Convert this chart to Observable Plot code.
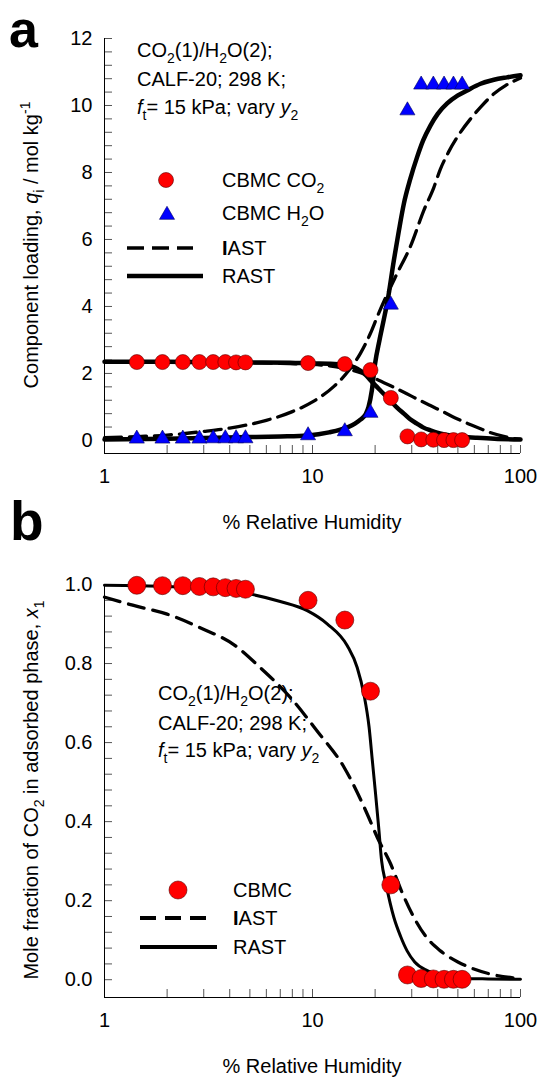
<!DOCTYPE html>
<html><head><meta charset="utf-8">
<script src="https://cdn.jsdelivr.net/npm/d3@7"></script>
<script src="https://cdn.jsdelivr.net/npm/@observablehq/plot@0.6"></script>
<style>
body{margin:0;background:#fff;}
#chart{width:539px;}
#chart svg{display:block;overflow:visible}
</style></head><body><div id="chart"></div>
<script>
// ---- CBMC data (% relative humidity) ----
const rh = [1.43,1.90,2.38,2.86,3.33,3.81,4.29,4.76,9.52,14.3,19.0,23.8,28.6,33.3,38.1,42.9,47.6,52.4];
const cbmcCO2 = [2.34,2.34,2.34,2.34,2.34,2.34,2.33,2.33,2.31,2.28,2.10,1.27,0.12,0.03,0.02,0.01,0.01,0.01];
const cbmcH2O = [0.05,0.05,0.05,0.05,0.06,0.06,0.06,0.06,0.15,0.27,0.82,4.05,9.85,10.62,10.62,10.62,10.62,10.62];
const cbmcX1 = [0.998,0.997,0.997,0.995,0.994,0.992,0.990,0.988,0.960,0.910,0.730,0.240,0.012,0.003,0.002,0.001,0.001,0.001];

// ---- IAST / RAST curves ----
const iastCO2X = [1,2,3,5,7,10,14,17,20.8,24,27.5,32,36.9,42,49.5,56,64.3,72,83,92,100];
const iastCO2Y = [2.35,2.34,2.33,2.32,2.30,2.27,2.16,2.02,1.80,1.62,1.44,1.23,1.04,0.87,0.65,0.50,0.35,0.23,0.12,0.06,0.03];
const rastCO2X = [1,2,3,5,7.8,10,12,14.1,16.4,18,19,20,21.2,22.5,23.7,25.5,27.5,29.5,31.8,34,36.9,41,46,53,61.8,75,100];
const rastCO2Y = [2.35,2.35,2.34,2.33,2.32,2.30,2.29,2.26,2.14,1.96,1.80,1.65,1.49,1.33,1.19,0.98,0.80,0.63,0.50,0.39,0.30,0.21,0.15,0.11,0.08,0.05,0.03];
const iastH2OX = [1,1.5,2,3,4,5,6,8,10,12.6,15,17,19,20.5,23,25.5,29.6,34.3,38.3,41.2,45,49.6,57.5,64.3,74.5,85,100];
const iastH2OY = [0.08,0.12,0.16,0.27,0.37,0.48,0.60,0.86,1.15,1.60,2.10,2.60,3.20,3.70,4.40,4.98,5.80,6.87,7.55,8.10,8.60,9.05,9.60,9.95,10.35,10.60,10.82];
const rastH2OX = [1,2,3,5,7,9.5,12,14.7,16,17,18,18.6,19.3,20,21,22,23,24.6,26,27.5,29.5,31.8,34,36.9,40,44.4,50,55.4,64.3,74.5,86,100];
const rastH2OY = [0.03,0.05,0.07,0.10,0.12,0.15,0.24,0.39,0.50,0.62,0.78,1.00,1.50,2.30,3.00,3.60,4.20,5.37,6.25,7.07,7.80,8.45,8.95,9.40,9.75,10.06,10.30,10.45,10.65,10.77,10.84,10.90];
const rastX1X = [1,2,3,4.87,7,9.43,11.8,14.7,16.4,17.7,18.7,19.4,20.1,20.8,21.5,22.5,24.6,26.5,28.5,31,35.6,42,51.5,70,100];
const rastX1Y = [0.998,0.995,0.990,0.977,0.957,0.934,0.900,0.845,0.790,0.720,0.640,0.554,0.470,0.386,0.300,0.245,0.158,0.110,0.073,0.045,0.023,0.010,0.004,0.002,0.001];
const iastX1X = [1,1.38,2,2.9,4.18,5.6,7.8,10.5,14.2,18.3,20.5,23.7,27,30.7,35,41.2,50,59.7,75,100];
const iastX1Y = [0.968,0.947,0.925,0.890,0.848,0.790,0.715,0.630,0.537,0.420,0.360,0.294,0.220,0.158,0.110,0.073,0.045,0.027,0.012,0.003];

// ---- axis ticks ----
const xMajor = [1,10,100];
const xMinor = [1,2,3,4,5,6,7,8,9,10,20,30,40,50,60,70,80,90,100];
const yMajorA = [0,2,4,6,8,10,12];
const yMinorA = d3.range(0, 12.001, 0.4);
const yMajorB = [0,0.2,0.4,0.6,0.8,1.0];
const yMinorB = d3.range(0, 1.0001, 0.04);

const font = "'Liberation Sans', Arial, Helvetica, sans-serif";
const zip = (xs, ys) => xs.map((x, i) => ({x, y: ys[i]}));

function axes(yMajor, yMinor, yFmt, yMin) {
  return [
    Plot.axisX({ticks: xMajor, tickSize: 0, tickPadding: 15, tickFormat: d => String(d), label: null, fontSize: 20}),
    Plot.axisX({ticks: xMinor, tickSize: -8, tickFormat: () => "", label: null, stroke: "#555"}),
    Plot.axisY({ticks: yMajor, tickSize: 0, tickPadding: 12, tickFormat: yFmt, label: null, fontSize: 20}),
    Plot.axisY({ticks: yMinor, tickSize: -8, tickFormat: () => "", label: null, stroke: "#555"}),
    Plot.ruleX([1], {stroke: "#000", strokeWidth: 1}),
    Plot.ruleY([yMin], {stroke: "#000", strokeWidth: 1})
  ];
}

function rich(sel, x, y, parts, opts = {}) {
  const size = opts.size || 20;
  const t = sel.append("text").attr("x", x).attr("y", y)
    .attr("font-size", size).attr("font-family", font).attr("fill", "#000")
    .attr("text-anchor", opts.anchor || "start");
  if (opts.weight) t.attr("font-weight", opts.weight);
  if (opts.rotate) t.attr("transform", `rotate(-90 ${x} ${y})`);
  let shift = 0;
  for (const p of parts) {
    const [s, st] = typeof p === "string" ? [p, {}] : p;
    const ts = t.append("tspan").text(s);
    const target = st.sub ? size * 0.3 : st.sup ? -size * 0.42 : 0;
    if (target !== shift) { ts.attr("dy", target - shift); shift = target; }
    if (st.sub || st.sup) ts.attr("font-size", size * 0.7);
    if (st.italic) ts.attr("font-style", "italic");
    if (st.bold) ts.attr("font-weight", "bold");
  }
  return t;
}

const redDot = {fill: "#ff0000", stroke: "#5a0000", strokeWidth: 0.6};
const blueTri = {fill: "#0000ff", stroke: "#000060", strokeWidth: 0.6};

// ---------- Panel a ----------
const yMinA = -0.39;
const svgA = Plot.plot({
  width: 539, height: 560, marginTop: 38, marginBottom: 107, marginLeft: 104, marginRight: 19,
  style: {fontFamily: font, fontSize: "20px", color: "#000", background: "#fff", overflow: "visible"},
  x: {type: "log", domain: [1, 100]},
  y: {domain: [yMinA, 12]},
  marks: [
    ...axes(yMajorA, yMinorA, d => String(d), yMinA),
    Plot.line(zip(iastCO2X, iastCO2Y), {x: "x", y: "y", curve: "monotone-x", stroke: "#000", strokeWidth: 3.3, strokeDasharray: "17,8"}),
    Plot.line(zip(iastH2OX, iastH2OY), {x: "x", y: "y", curve: "monotone-x", stroke: "#000", strokeWidth: 3.3, strokeDasharray: "17,8"}),
    Plot.line(zip(rastCO2X, rastCO2Y), {x: "x", y: "y", curve: "monotone-x", stroke: "#000", strokeWidth: 4.5}),
    Plot.line(zip(rastH2OX, rastH2OY), {x: "x", y: "y", curve: "monotone-x", stroke: "#000", strokeWidth: 4.5}),
    Plot.dot(zip(rh, cbmcCO2), {x: "x", y: "y", r: 7.5, ...redDot}),
    Plot.dot(zip(rh, cbmcH2O), {x: "x", y: "y", r: 5.6, symbol: "triangle", ...blueTri})
  ]
});
// ---------- Panel b ----------
const yMinB = -0.045;
const svgB = Plot.plot({
  width: 539, height: 518, marginTop: 24, marginBottom: 81, marginLeft: 104, marginRight: 19,
  style: {fontFamily: font, fontSize: "20px", color: "#000", background: "#fff", overflow: "visible"},
  x: {type: "log", domain: [1, 100]},
  y: {domain: [yMinB, 1.0]},
  marks: [
    ...axes(yMajorB, yMinorB, d3.format(".1f"), yMinB),
    Plot.line(zip(iastX1X, iastX1Y), {x: "x", y: "y", curve: "monotone-x", stroke: "#000", strokeWidth: 3.3, strokeDasharray: "16,9"}),
    Plot.line(zip(rastX1X, rastX1Y), {x: "x", y: "y", curve: "monotone-x", stroke: "#000", strokeWidth: 3}),
    Plot.dot(zip(rh, cbmcX1), {x: "x", y: "y", r: 9, ...redDot})
  ]
});

const root = document.getElementById("chart");
root.append(svgA, svgB);

// ---------- annotations panel a ----------
const A = d3.select(svgA);
rich(A, 9, 47, ["a"], {size: 52, weight: "bold"});
rich(A, 10, 540, ["b"], {size: 55, weight: "bold"});
rich(A, 312, 529, ["% Relative Humidity"], {anchor: "middle"});
rich(A, 38, 245, ["Component loading, ", ["q", {italic: true}], ["i", {sub: true}], " / mol kg", ["-1", {sup: true}]], {anchor: "middle", rotate: true});
rich(A, 137, 57, ["CO", ["2", {sub: true}], "(1)/H", ["2", {sub: true}], "O(2);"]);
rich(A, 137, 86, ["CALF-20; 298 K;"]);
rich(A, 137, 114, [["f", {italic: true}], ["t", {sub: true}], "= 15 kPa; vary ", ["y", {italic: true}], ["2", {sub: true}]]);
// legend a
A.append("circle").attr("cx", 166).attr("cy", 180).attr("r", 7.5).attr("fill", "#ff0000").attr("stroke", "#5a0000").attr("stroke-width", 0.6);
A.append("path").attr("d", d3.symbol(d3.symbolTriangle, Math.PI * 5.6 * 5.6)()).attr("transform", "translate(167,215)")
  .attr("fill", "#0000ff").attr("stroke", "#000060").attr("stroke-width", 0.6);
A.append("line").attr("x1", 127).attr("x2", 193).attr("y1", 248).attr("y2", 248).attr("stroke", "#000").attr("stroke-width", 3.3).attr("stroke-dasharray", "17,8");
A.append("line").attr("x1", 127).attr("x2", 203).attr("y1", 276).attr("y2", 276).attr("stroke", "#000").attr("stroke-width", 4.5);
rich(A, 222, 187, ["CBMC CO", ["2", {sub: true}]]);
rich(A, 222, 220, ["CBMC H", ["2", {sub: true}], "O"]);
rich(A, 222, 255, [["I", {bold: true}], "AST"]);
rich(A, 222, 283, ["RAST"]);

// ---------- annotations panel b ----------
const B = d3.select(svgB);
rich(B, 312, 513, ["% Relative Humidity"], {anchor: "middle"});
rich(B, 38, 230, ["Mole fraction of CO", ["2", {sub: true}], " in adsorbed phase, ", ["x", {italic: true}], ["1", {sub: true}]], {anchor: "middle", rotate: true});
rich(B, 158, 140, ["CO", ["2", {sub: true}], "(1)/H", ["2", {sub: true}], "O(2);"]);
rich(B, 158, 170, ["CALF-20; 298 K;"]);
rich(B, 158, 197, [["f", {italic: true}], ["t", {sub: true}], "= 15 kPa; vary ", ["y", {italic: true}], ["2", {sub: true}]]);
B.append("circle").attr("cx", 178).attr("cy", 330).attr("r", 9).attr("fill", "#ff0000").attr("stroke", "#5a0000").attr("stroke-width", 0.6);
B.append("line").attr("x1", 140).attr("x2", 207).attr("y1", 358).attr("y2", 358).attr("stroke", "#000").attr("stroke-width", 4).attr("stroke-dasharray", "16,9");
B.append("line").attr("x1", 140).attr("x2", 217).attr("y1", 387).attr("y2", 387).attr("stroke", "#000").attr("stroke-width", 4);
rich(B, 233, 337, ["CBMC"]);
rich(B, 233, 365, [["I", {bold: true}], "AST"]);
rich(B, 233, 394, ["RAST"]);
</script></body></html>
